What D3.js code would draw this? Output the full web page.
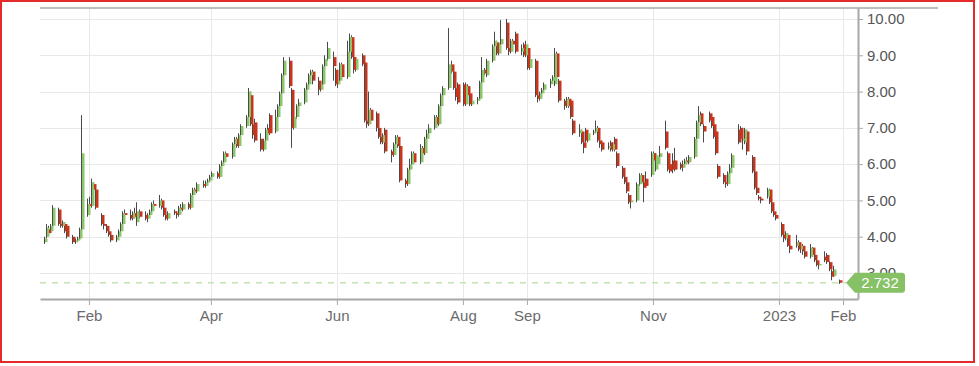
<!DOCTYPE html>
<html>
<head>
<meta charset="utf-8">
<script src="https://cdn.jsdelivr.net/npm/d3@7/dist/d3.min.js"></script>
<style>
  html, body { margin: 0; padding: 0; background: #fff; }
  svg { display: block; font-family: 'Liberation Sans', Arial, sans-serif; }
</style>
</head>
<body>
<svg></svg>
<script>
/*global d3*/

// trading calendar: every weekday from the first to the last candle
let firstDay = new Date(2022, 0, 10);
let lastDay = new Date(2023, 0, 30);

// daily [open, high, low, close], one line per week (Mon..Fri)
let prices = [
    [3.85,4.0,3.8,3.95],[4.0,4.35,3.95,4.25],[4.2,4.3,4.05,4.1],[4.15,4.35,4.1,4.3],[4.3,4.87,4.25,4.8],
    [4.75,4.8,4.3,4.35],[4.35,4.45,4.25,4.3],[4.3,4.45,4.25,4.4],[4.35,4.4,4.1,4.15],[4.3,4.35,3.95,4.0],
    [4.0,4.05,3.8,3.85],[3.85,3.95,3.8,3.9],[3.9,4.0,3.85,3.95],[3.95,4.25,3.9,4.2],[4.2,7.35,4.15,6.3],
    [4.6,5.05,4.55,4.9],[4.9,5.1,4.75,4.85],[4.85,5.6,4.8,5.5],[5.45,5.5,5.1,5.3],[5.3,5.4,4.75,4.8],
    [4.6,4.65,4.3,4.35],[4.35,4.45,4.2,4.3],[4.3,4.35,4.1,4.15],[4.15,4.2,4.0,4.05],[4.05,4.1,3.85,3.9],
    [3.9,4.05,3.85,4.0],[4.0,4.2,3.95,4.15],[4.15,4.4,4.1,4.35],[4.35,4.7,4.3,4.65],[4.65,4.75,4.5,4.6],
    [4.6,4.75,4.45,4.5],[4.5,4.7,4.45,4.65],[4.65,4.8,4.5,4.55],[4.4,4.95,4.3,4.7],[4.7,4.75,4.5,4.55],
    [4.6,4.7,4.45,4.5],[4.5,4.65,4.4,4.6],[4.6,4.75,4.55,4.7],[4.7,4.95,4.65,4.9],[4.9,5.0,4.75,4.85],
    [4.85,5.15,4.8,5.0],[5.0,5.05,4.75,4.8],[4.8,4.85,4.55,4.6],[4.6,4.65,4.45,4.5],[4.5,4.7,4.45,4.65],
    [4.7,4.75,4.6,4.65],[4.65,4.7,4.5,4.6],[4.6,4.85,4.55,4.8],[4.8,4.9,4.7,4.75],[4.75,4.95,4.7,4.9],
    [4.9,4.95,4.75,4.8],[4.8,5.2,4.75,5.15],[5.15,5.35,5.1,5.3],[5.3,5.35,5.2,5.25],[5.25,5.5,5.2,5.45],
    [5.45,5.55,5.35,5.4],[5.4,5.55,5.35,5.5],[5.5,5.6,5.45,5.55],[5.55,5.7,5.5,5.65],[5.65,5.8,5.6,5.75],
    [5.75,5.8,5.6,5.65],[5.65,6.0,5.6,5.95],[5.95,6.1,5.9,6.05],[6.05,6.35,6.0,6.3],[6.3,6.35,6.15,6.2],
    [6.2,6.6,6.15,6.55],[6.55,6.75,6.5,6.7],[6.7,6.75,6.45,6.5],[6.5,6.85,6.45,6.8],[6.8,7.1,6.75,7.05],
    [7.05,7.35,7.0,7.3],[7.3,8.1,7.25,8.0],[7.9,8.0,7.05,7.1],[7.1,7.25,6.7,6.8],[7.15,7.25,6.6,6.65],
    [6.7,6.85,6.35,6.4],[6.4,6.7,6.35,6.65],[6.65,7.0,6.6,6.95],[7.0,7.1,6.8,6.85],[7.35,7.4,6.8,6.85],
    [6.9,7.5,6.85,7.3],[7.3,7.65,7.25,7.6],[7.6,8.0,7.55,7.95],[7.95,8.5,7.9,8.45],[8.45,8.95,8.4,8.85],
    [8.85,8.95,8.1,8.15],[8.05,8.1,6.45,7.0],[7.0,7.35,6.95,7.3],[7.3,7.65,7.25,7.6],[7.6,7.8,7.5,7.7],
    [7.7,8.1,7.65,8.05],[8.05,8.25,7.95,8.2],[8.2,8.5,8.1,8.45],[8.45,8.6,8.3,8.55],[8.55,8.6,8.2,8.3],
    [8.3,8.4,7.9,8.05],[8.05,8.25,8.0,8.2],[8.2,8.75,8.15,8.7],[8.7,9.0,8.65,8.9],[8.9,9.37,8.85,9.2],
    [8.95,9.1,8.3,8.7],[8.6,8.65,8.15,8.2],[8.2,8.4,8.1,8.3],[8.3,8.8,8.25,8.75],[8.75,8.8,8.35,8.4],
    [8.4,9.4,8.35,9.1],[9.1,9.6,9.0,9.5],[9.5,9.55,8.9,8.95],[8.95,9.0,8.5,8.6],[8.6,8.95,8.55,8.9],
    [9.0,9.05,8.7,8.75],[8.8,8.85,7.15,7.2],[7.2,7.65,7.0,7.1],[7.1,8.0,7.05,7.5],[7.5,7.55,7.15,7.2],
    [7.4,7.45,6.9,7.0],[7.0,7.05,6.7,6.75],[6.75,6.8,6.55,6.6],[6.6,6.85,6.55,6.8],[6.95,7.0,6.3,6.35],
    [6.35,6.4,6.05,6.25],[6.25,6.6,6.2,6.55],[6.55,6.8,6.5,6.75],[6.75,6.8,6.45,6.5],[6.5,6.55,5.5,5.55],
    [5.55,5.6,5.35,5.45],[5.45,5.9,5.4,5.85],[5.85,6.15,5.8,6.0],[6.0,6.35,5.95,6.3],[6.3,6.35,6.0,6.05],
    [6.05,6.55,6.0,6.45],[6.45,6.5,6.25,6.3],[6.3,6.75,6.25,6.7],[6.7,6.95,6.65,6.85],[6.85,7.1,6.8,7.0],
    [7.0,7.35,6.95,7.3],[7.3,7.35,7.05,7.1],[7.1,7.65,7.05,7.6],[7.6,7.95,7.55,7.9],[7.9,8.15,7.85,8.1],
    [8.1,9.75,8.05,8.75],[8.75,8.85,8.5,8.55],[8.55,8.6,8.05,8.1],[8.1,8.2,7.75,7.85],[8.2,8.25,7.65,7.7],
    [8.2,8.25,7.6,7.65],[7.65,8.25,7.6,8.15],[8.15,8.2,7.85,7.9],[7.95,8.0,7.6,7.65],[7.65,7.85,7.6,7.75],
    [7.75,7.85,7.65,7.8],[7.8,8.3,7.75,8.25],[8.25,8.95,8.2,8.6],[8.6,8.65,8.45,8.5],[8.45,8.9,8.4,8.85],
    [8.85,9.3,8.8,9.25],[9.25,9.65,9.2,9.4],[9.35,9.4,9.0,9.05],[9.05,9.35,9.0,9.3],[9.3,9.97,9.25,9.45],
    [9.9,10.0,9.15,9.2],[9.2,9.25,9.0,9.1],[9.1,9.45,9.05,9.4],[9.4,9.45,9.2,9.3],[9.6,9.65,9.05,9.1],
    [9.1,9.3,9.0,9.2],[9.3,9.35,8.95,9.0],[9.0,9.4,8.95,9.3],[9.2,9.25,8.6,8.65],[8.65,9.0,8.6,8.9],
    [8.85,8.9,7.85,7.9],[7.9,7.95,7.7,7.8],[7.8,8.0,7.75,7.95],[7.95,8.1,7.85,8.05],[8.05,8.25,8.0,8.2],
    [8.2,8.35,8.1,8.3],[8.3,8.45,8.25,8.4],[8.2,9.2,8.15,9.05],[9.05,9.1,8.35,8.4],[8.3,8.35,7.7,7.75],
    [7.75,7.8,7.5,7.6],[7.6,7.85,7.55,7.8],[7.8,7.85,7.55,7.6],[7.75,7.8,7.25,7.3],[7.2,7.25,6.8,6.85],
    [6.85,7.1,6.75,6.95],[6.9,6.95,6.55,6.6],[6.6,6.65,6.3,6.45],[6.95,7.0,6.6,6.65],[6.65,6.9,6.6,6.85],
    [6.85,6.95,6.8,6.9],[6.9,7.2,6.85,7.0],[7.0,7.05,6.6,6.65],[6.65,6.7,6.45,6.55],[6.6,6.65,6.35,6.4],
    [6.45,6.6,6.4,6.5],[6.6,6.65,6.35,6.4],[6.4,6.6,6.35,6.55],[6.7,6.75,6.35,6.4],[6.3,6.35,5.9,5.95],
    [5.9,5.95,5.6,5.65],[5.65,5.7,5.45,5.5],[5.5,5.55,5.2,5.25],[5.15,5.2,4.9,4.95],[4.95,5.05,4.78,5.0],
    [5.0,5.5,4.95,5.45],[5.45,5.75,5.4,5.7],[5.7,5.75,5.45,5.5],[5.5,5.6,4.95,5.35],[5.6,5.8,5.35,5.4],
    [5.7,6.35,5.65,6.3],[6.3,6.35,6.05,6.1],[5.85,6.3,5.8,6.25],[6.0,6.25,5.95,6.2],[6.2,6.5,6.15,6.3],
    [6.9,7.2,6.4,6.45],[6.3,6.35,5.8,5.85],[6.0,6.05,5.75,5.8],[6.1,6.3,5.75,5.85],[6.1,6.45,5.8,5.85],
    [6.0,6.05,5.85,5.9],[5.9,6.1,5.8,6.0],[6.0,6.15,5.95,6.1],[6.1,6.2,6.0,6.05],[6.05,6.25,6.0,6.2],
    [6.2,6.75,6.15,6.7],[6.7,7.2,6.65,7.15],[7.15,7.6,7.1,7.35],[7.4,7.45,7.05,7.1],[7.05,7.1,6.6,6.9],
    [7.4,7.45,7.15,7.2],[7.3,7.35,7.0,7.05],[7.1,7.15,6.7,6.75],[6.9,6.95,6.25,6.3],[5.95,6.0,5.6,5.65],
    [5.7,5.75,5.45,5.5],[5.5,5.55,5.35,5.45],[5.45,5.8,5.4,5.75],[5.75,6.0,5.7,5.9],[5.9,6.3,5.85,6.25],
    [6.95,7.1,6.55,6.6],[7.0,7.05,6.6,6.7],[6.65,7.0,6.4,6.7],[6.6,7.0,6.55,6.95],[6.9,6.95,6.25,6.35],
    [6.2,6.25,5.75,5.8],[5.8,5.85,5.3,5.35],[5.35,5.4,5.15,5.2],[5.1,5.15,5.0,5.05],[5.05,5.1,4.92,5.0],
    [5.1,5.35,5.05,5.3],[5.3,5.32,4.9,4.95],[4.95,5.0,4.65,4.7],[4.7,4.75,4.55,4.6],[4.6,4.65,4.45,4.5],
    [4.35,4.4,4.0,4.05],[4.05,4.1,3.85,3.95],[3.95,4.15,3.9,4.1],[4.05,4.1,3.72,3.75],[3.75,3.85,3.55,3.65],
    [3.75,4.05,3.7,3.85],[3.85,3.9,3.6,3.65],[3.65,3.8,3.55,3.75],[3.75,3.8,3.5,3.6],[3.6,3.65,3.4,3.45],
    [3.45,3.8,3.4,3.7],[3.7,3.72,3.45,3.5],[3.5,3.55,3.3,3.35],[3.35,3.4,3.18,3.22],[3.22,3.3,3.1,3.25],
    [3.45,3.6,3.3,3.35],[3.5,3.55,3.25,3.3],[3.3,3.32,3.05,3.1],[3.05,3.1,2.8,2.9],[2.92,3.2,2.9,3.1],
    [2.8,2.82,2.7,2.732]
];

// last traded price shown in the tag
let lastPrice = 2.732;

// axis ticks
let xTickDates = [
    new Date(2022, 1, 1), new Date(2022, 3, 1), new Date(2022, 5, 1), new Date(2022, 7, 1),
    new Date(2022, 8, 1), new Date(2022, 10, 1), new Date(2023, 0, 1), new Date(2023, 1, 1)
];
let xTickLabels = ['Feb', 'Apr', 'Jun', 'Aug', 'Sep', 'Nov', '2023', 'Feb'];
let yTicks = [3, 4, 5, 6, 7, 8, 9, 10];

// canvas
let width = 979;
let height = 366;
let plot = { left: 40, right: 858, top: 8, bottom: 299 };

let upColor = '#8cc66c';
let downColor = '#c8341c';
let wickColor = '#4a4a4a';

let svg = d3.select('svg')
    .attr('width', width)
    .attr('height', height);

// candles by weekday
let days = d3.timeDay.range(firstDay, d3.timeDay.offset(lastDay, 1))
    .filter(d => d.getDay() > 0 && d.getDay() < 6);
let n = Math.min(days.length, prices.length);
let candles = d3.range(n).map(i => ({
    date: days[i],
    open: prices[i][0], high: prices[i][1], low: prices[i][2], close: prices[i][3]
}));

let x = d3.scaleTime()
    .domain([new Date(2022, 0, 8, 7), new Date(2023, 1, 8, 6)])
    .range([plot.left, plot.right]);

let y = d3.scaleLinear()
    .domain([2.284, 10.303])
    .range([plot.bottom, plot.top]);

// outer red frame
svg.append('rect')
    .attr('x', 1).attr('y', 1)
    .attr('width', 973).attr('height', 361)
    .attr('fill', 'none')
    .attr('stroke', '#e52a2a')
    .attr('stroke-width', 2);

// horizontal grid
svg.append('g')
    .selectAll('line')
    .data(yTicks)
    .enter()
    .append('line')
    .attr('x1', plot.left).attr('x2', plot.right)
    .attr('y1', d => Math.round(y(d)) + 0.5).attr('y2', d => Math.round(y(d)) + 0.5)
    .attr('stroke', '#e8e8e8');

// vertical grid at month ticks
svg.append('g')
    .selectAll('line')
    .data(xTickDates)
    .enter()
    .append('line')
    .attr('x1', d => Math.round(x(d)) + 0.5).attr('x2', d => Math.round(x(d)) + 0.5)
    .attr('y1', plot.top).attr('y2', plot.bottom)
    .attr('stroke', '#e8e8e8');

// top border line
svg.append('line')
    .attr('x1', plot.left).attr('x2', 938)
    .attr('y1', plot.top).attr('y2', plot.top)
    .attr('stroke', '#bdbdbd')
    .attr('stroke-width', 2);

// last price dashed line
svg.append('line')
    .attr('x1', plot.left).attr('x2', 846)
    .attr('y1', y(lastPrice)).attr('y2', y(lastPrice))
    .attr('stroke', '#c4e2b3')
    .attr('stroke-width', 1.5)
    .attr('stroke-dasharray', '6,6');

// candles
let cg = svg.append('g').attr('class', 'candles');

cg.selectAll('line')
    .data(candles)
    .enter()
    .append('line')
    .attr('x1', d => Math.round(x(d.date)) + 0.5)
    .attr('x2', d => Math.round(x(d.date)) + 0.5)
    .attr('y1', d => y(d.high))
    .attr('y2', d => y(d.low))
    .attr('stroke', wickColor)
    .attr('stroke-width', 1);

cg.selectAll('rect')
    .data(candles)
    .enter()
    .append('rect')
    .attr('x', d => Math.round(x(d.date)) + 1)
    .attr('width', 2.5)
    .attr('y', d => y(Math.max(d.open, d.close)))
    .attr('height', d => Math.max(1.5, Math.abs(y(d.open) - y(d.close))))
    .attr('fill', d => d.close >= d.open ? upColor : downColor);

// bottom axis
let xAxis = d3.axisBottom(x)
    .tickValues(xTickDates)
    .tickFormat((d, i) => xTickLabels[i])
    .tickSize(6)
    .tickSizeOuter(0);

let gx = svg.append('g')
    .attr('transform', 'translate(0,' + plot.bottom + ')')
    .call(xAxis);
gx.select('.domain').attr('stroke', '#a8a8a8').attr('stroke-width', 2);
gx.selectAll('.tick line').attr('stroke', '#a8a8a8');
gx.selectAll('.tick text')
    .attr('y', 11)
    .attr('fill', '#6b6b6b')
    .style('font-size', '15px')
    .style('font-family', "'Liberation Sans', Arial, sans-serif");

// right axis
let yAxis = d3.axisRight(y)
    .tickValues(yTicks)
    .tickFormat(d3.format('.2f'))
    .tickSize(5)
    .tickSizeOuter(0);

let gy = svg.append('g')
    .attr('transform', 'translate(' + plot.right + ',0)')
    .call(yAxis);
gy.select('.domain').attr('stroke', '#a8a8a8').attr('stroke-width', 2);
gy.selectAll('.tick line').attr('stroke', '#a8a8a8');
gy.selectAll('.tick text')
    .attr('x', 9)
    .attr('fill', '#555')
    .style('font-size', '15px')
    .style('font-family', "'Liberation Sans', Arial, sans-serif");

// last price tag, drawn over the 3.00 label as in the source chart
let ty = y(lastPrice);
svg.append('path')
    .attr('d', 'M846,' + ty + 'L855,' + (ty - 10) + 'H902Q905,' + (ty - 10) + ' 905,' + (ty - 7) +
        'V' + (ty + 7) + 'Q905,' + (ty + 10) + ' 902,' + (ty + 10) + 'H855Z')
    .attr('fill', '#86c166');

svg.append('text')
    .attr('x', 880)
    .attr('y', ty)
    .attr('dy', '0.35em')
    .attr('text-anchor', 'middle')
    .attr('fill', '#fff')
    .style('font-size', '15px')
    .text(d3.format('.3f')(lastPrice));
</script>
</body>
</html>
